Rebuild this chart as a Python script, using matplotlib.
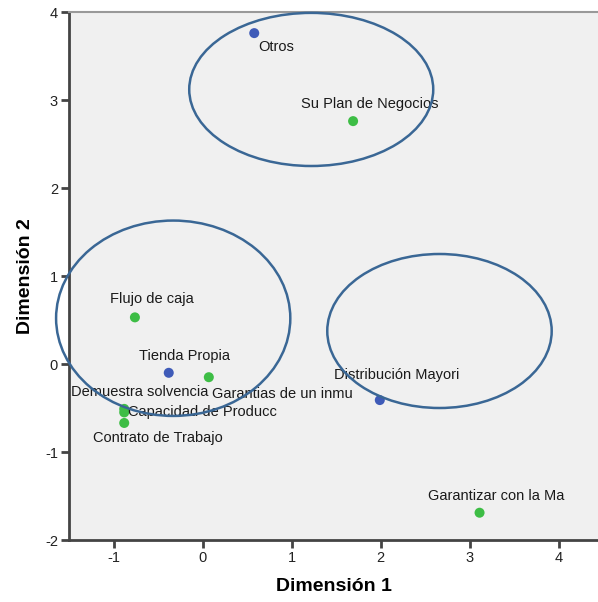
import matplotlib
matplotlib.use("Agg")
import matplotlib.pyplot as plt
from matplotlib.patches import Ellipse

plt.rcParams['font.family'] = ['Liberation Sans', 'DejaVu Sans']
plt.rcParams['axes.unicode_minus'] = False

# Category points (dimension 1, dimension 2) and their group
labels = ["Otros", "Su Plan de Negocios", "Flujo de caja", "Tienda Propia",
          "Garantias de un inmu", "Demuestra solvencia", "Capacidad de Producc",
          "Contrato de Trabajo", "Distribución Mayori", "Garantizar con la Ma"]
dim1 = [0.58, 1.69, -0.76, -0.38, 0.07, -0.88, -0.88, -0.88, 1.99, 3.11]
dim2 = [3.76, 2.76, 0.53, -0.10, -0.15, -0.51, -0.55, -0.67, -0.41, -1.69]
group = ["var1", "var2", "var2", "var1", "var2", "var2", "var2", "var2", "var1", "var2"]

# label offsets in points: (dx, dy, ha)
label_pos = {
    "Otros": (3, -10, "left"),
    "Su Plan de Negocios": (12, 12, "center"),
    "Flujo de caja": (12, 13, "center"),
    "Tienda Propia": (11, 12, "center"),
    "Garantias de un inmu": (2, -12, "left"),
    "Demuestra solvencia": (11, 12, "center"),
    "Capacidad de Producc": (3, 0, "left"),
    "Contrato de Trabajo": (24, -11, "center"),
    "Distribución Mayori": (12, 18, "center"),
    "Garantizar con la Ma": (12, 12, "center"),
}

# Grouping ellipses: (center x, center y, width, height)
ellipses = [(1.22, 3.12, 2.74, 1.74),
            (-0.33, 0.52, 2.63, 2.22),
            (2.66, 0.375, 2.52, 1.75)]

colors = {"var1": "#3f5bb8", "var2": "#3dbd45"}

fig = plt.figure(figsize=(5.98, 6.02), dpi=100)
ax = fig.add_axes([69 / 598, 62 / 602, (598 - 69) / 598, (540 - 12) / 602])
ax.set_facecolor("#f0f0f0")

for x, y, g in zip(dim1, dim2, group):
    ax.scatter(x, y, s=52, color=colors[g], zorder=3, edgecolors="none")

for lab, x, y in zip(labels, dim1, dim2):
    dx, dy, ha = label_pos[lab]
    ax.annotate(lab, (x, y), xytext=(dx, dy), textcoords="offset points",
                ha=ha, va="center", fontsize=10.5, color="#1a1a1a", zorder=4)

for cx, cy, w, h in ellipses:
    ax.add_patch(Ellipse((cx, cy), w, h, fill=False, edgecolor="#3a6795",
                         linewidth=1.8, zorder=5, clip_on=False))

ax.set_xlim(-1.5, 4.44)
ax.set_ylim(-2, 4)
ax.set_xticks([-1, 0, 1, 2, 3, 4])
ax.set_yticks([-2, -1, 0, 1, 2, 3, 4])

for side in ("left", "bottom"):
    ax.spines[side].set_color("#444444")
    ax.spines[side].set_linewidth(2)
ax.spines["top"].set_color("#999999")
ax.spines["top"].set_linewidth(1.5)
ax.spines["right"].set_visible(False)

ax.tick_params(direction="out", length=6, width=2, color="#444444",
               labelsize=10.5, labelcolor="#222222", pad=2)

ax.set_xlabel("Dimensión 1", fontsize=14, fontweight="bold", labelpad=9)
ax.set_ylabel("Dimensión 2", fontsize=14, fontweight="bold", labelpad=8)

fig.savefig("out.png", dpi=100, facecolor="white")
